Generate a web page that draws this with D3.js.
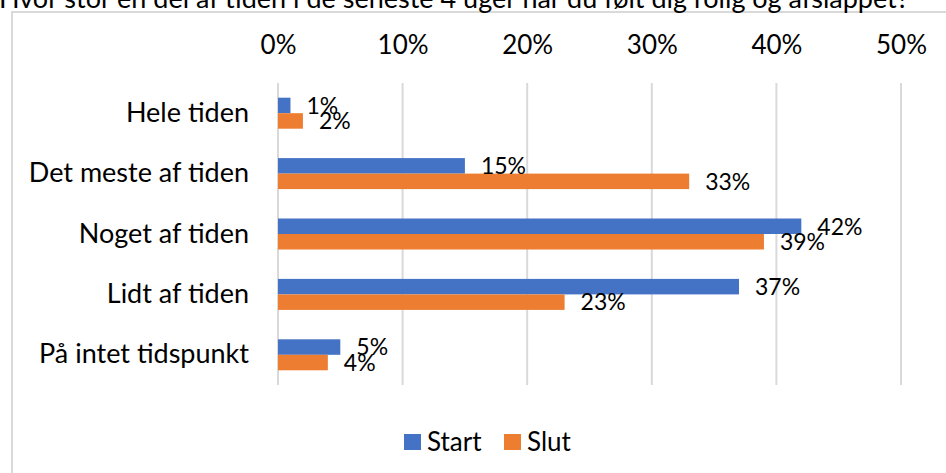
<!DOCTYPE html>
<html>
<head>
<meta charset="utf-8">
<script src="https://cdn.jsdelivr.net/npm/d3@7"></script>
<style>
  body { margin: 0; background: #fff; }
  svg { display: block; font-family: Lato, "Open Sans", sans-serif; }
</style>
</head>
<body>
<div id="chart"></div>
<script>
// données
var categories = ["Hele tiden", "Det meste af tiden", "Noget af tiden", "Lidt af tiden", "På intet tidspunkt"];
var series = ["Start", "Slut"];
var start_values = [0.01, 0.15, 0.42, 0.37, 0.05];
var slut_values = [0.02, 0.33, 0.39, 0.23, 0.04];
var ticks = [0, 0.1, 0.2, 0.3, 0.4, 0.5];
var title = "Hvor stor en del af tiden i de seneste 4 uger har du følt dig rolig og afslappet?";

var width = 946, height = 473;
var colors = ["#4472C4", "#ED7D31"];
var font = "Lato, 'Open Sans', sans-serif";

var svg = d3.select("#chart").append("svg")
    .attr("width", width)
    .attr("height", height);

// cadre du graphique (coupé à droite et en bas)
svg.append("rect")
    .attr("x", 12).attr("y", 12)
    .attr("width", 960).attr("height", 480)
    .attr("fill", "none")
    .attr("stroke", "#d9d9d9")
    .attr("stroke-width", 2);

// titre, à moitié coupé en haut
svg.append("text")
    .attr("x", -1).attr("y", 8)
    .style("font-size", "27px")
    .style("fill", "#000")
    .text(title);

var x = d3.scaleLinear().domain([0, 0.5]).range([278, 901]);
var y = d3.scaleBand().domain(categories).range([83, 385]);
var y1 = d3.scaleBand().domain(series).range([0, 31]);

// lignes verticales
svg.append("g").selectAll("line")
    .data(ticks)
    .enter()
    .append("line")
    .attr("x1", function(d){ return x(d); })
    .attr("x2", function(d){ return x(d); })
    .attr("y1", 83).attr("y2", 385)
    .attr("stroke", "#d9d9d9")
    .attr("stroke-width", 2);

// étiquettes de l'axe en haut
var axis = svg.append("g")
    .attr("transform", "translate(0,54)")
    .call(d3.axisTop(x).tickValues(ticks).tickFormat(d3.format(".0%")).tickSize(0).tickPadding(0));
axis.select(".domain").remove();
axis.selectAll("text")
    .style("font-family", font)
    .style("font-size", "26px")
    .style("fill", "#000");

// étiquettes des catégories
var cat_axis = svg.append("g")
    .attr("transform", "translate(249,0)")
    .call(d3.axisLeft(y).tickSize(0).tickPadding(0));
cat_axis.select(".domain").remove();
cat_axis.selectAll("text")
    .style("font-family", font)
    .style("font-size", "27px")
    .style("fill", "#000");

var rows = categories.map(function(c, i){
    return { cat: c, values: [
        { serie: "Start", value: start_values[i] },
        { serie: "Slut", value: slut_values[i] }
    ]};
});

var groups = svg.append("g").selectAll("g")
    .data(rows)
    .enter()
    .append("g")
    .attr("transform", function(d){ return "translate(0," + (y(d.cat) + y.bandwidth()/2 - 15.5) + ")"; });

groups.selectAll("rect")
    .data(function(d){ return d.values; })
    .enter()
    .append("rect")
    .attr("x", x(0))
    .attr("y", function(d){ return y1(d.serie); })
    .attr("width", function(d){ return x(d.value) - x(0); })
    .attr("height", y1.bandwidth())
    .attr("fill", function(d, i){ return colors[i]; });

groups.selectAll("text")
    .data(function(d){ return d.values; })
    .enter()
    .append("text")
    .attr("x", function(d){ return x(d.value) + 16; })
    .attr("y", function(d){ return y1(d.serie) + y1.bandwidth()/2; })
    .attr("dy", "0.36em")
    .style("font-size", "23px")
    .style("fill", "#000")
    .text(function(d){ return d3.format(".0%")(d.value); });

// légende
var legend = svg.append("g").attr("transform", "translate(404,434)");
var items = legend.selectAll("g")
    .data(series)
    .enter()
    .append("g")
    .attr("transform", function(d, i){ return "translate(" + (i * 100) + ",0)"; });
items.append("rect")
    .attr("width", 17).attr("height", 16)
    .attr("fill", function(d, i){ return colors[i]; });
items.append("text")
    .attr("x", 23).attr("y", 8)
    .attr("dy", "0.36em")
    .style("font-size", "26px")
    .style("fill", "#000")
    .text(function(d){ return d; });
</script>
</body>
</html>
